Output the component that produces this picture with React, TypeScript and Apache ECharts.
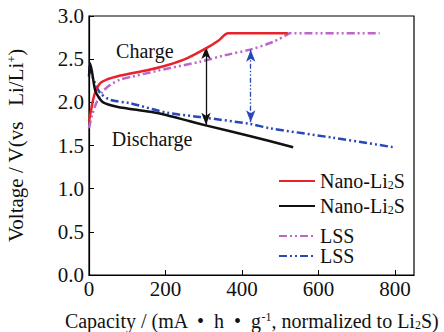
import React, { useEffect, useRef } from "react";
import * as echarts from "echarts";

const nanoChargeCap = [0, 5, 15, 29, 50, 73, 115, 160, 204, 256, 308, 340, 364, 520];
const nanoChargeV = [1.78, 1.9, 2.1, 2.22, 2.27, 2.3, 2.34, 2.38, 2.43, 2.51, 2.63, 2.72, 2.8, 2.8];

const nanoDisCap = [0, 3, 8, 16, 25, 37, 73, 160, 204, 264, 308, 420, 534];
const nanoDisV = [2.3, 2.45, 2.35, 2.14, 2.06, 2.0, 1.95, 1.89, 1.85, 1.78, 1.73, 1.61, 1.48];

const lssChargeCap = [0, 8, 20, 35, 55, 80, 115, 204, 290, 360, 421, 481, 517, 525, 760];
const lssChargeV = [1.7, 1.85, 2.0, 2.12, 2.2, 2.26, 2.3, 2.39, 2.47, 2.55, 2.61, 2.7, 2.78, 2.8, 2.8];

const lssDisCap = [0, 5, 16, 29, 55, 107, 204, 290, 421, 473, 638, 796];
const lssDisV = [2.42, 2.35, 2.22, 2.11, 2.03, 1.99, 1.88, 1.83, 1.75, 1.7, 1.59, 1.48];

const nanoArrow = { cap: 306, top: 2.64, bottom: 1.74 };
const lssArrow = { cap: 423, top: 2.61, bottom: 1.77 };

const chargeLabel = { cap: 146, v: 2.6, text: "Charge" };
const dischargeLabel = { cap: 165, v: 1.58, text: "Discharge" };

const FONT = "Liberation Serif";
const RED = "#e8222b";
const BLACK = "#111111";
const MAGENTA = "#c065c8";
const BLUE = "#2848b8";
const DASH_DOT_DOT = [8, 3, 2, 3, 2, 3];

const zip = (a: number[], b: number[]) => a.map((x, i) => [x, b[i]]);

const subRich = {
  s: { fontSize: 12, fontFamily: FONT, color: "#111", padding: [8, 0, 0, 0] },
  p: { fontSize: 12, fontFamily: FONT, color: "#111", padding: [0, 0, 8, 0] },
};
const tickText = { fontSize: 21, fontFamily: FONT, color: "#111", fontWeight: "normal" };

export default function App() {
  const ref = useRef<HTMLDivElement>(null);
  useEffect(() => {
    if (!ref.current) return;
    const chart = echarts.init(ref.current, undefined, { renderer: "svg" });
    const legendNames: Record<string, string> = {
      nc: "Nano-Li{s|2}S",
      nd: "Nano-Li{s|2}S",
      lc: "LSS",
      ld: "LSS",
    };
    const legendBase = {
      orient: "vertical",
      left: 278,
      padding: 0,
      itemWidth: 36,
      itemHeight: 14,
      formatter: (n: string) => legendNames[n],
      textStyle: { fontFamily: FONT, fontSize: 20, color: "#111", rich: subRich },
      itemStyle: { opacity: 0 },
      selectedMode: false,
    };
    const labelStyle = {
      show: true,
      fontFamily: FONT,
      fontSize: 20,
      color: "#111",
      position: "inside",
    };
    chart.setOption({
      animation: false,
      backgroundColor: "#ffffff",
      textStyle: { fontFamily: FONT, fontSize: 21 },
      grid: {
        left: 89,
        right: 30,
        top: 16,
        bottom: 57,
        outerBoundsMode: "none",
        containLabel: false,
        show: true,
        borderColor: "#000",
        borderWidth: 1.2,
        backgroundColor: "transparent",
      },
      legend: [
        { ...legendBase, data: ["nc", "nd"], top: 171, itemGap: 5 },
        { ...legendBase, data: ["lc", "ld"], top: 226, itemGap: 0 },
      ],
      xAxis: {
        type: "value",
        min: 0,
        max: 850,
        interval: 200,
        name: "Capacity / (mA  •  h  •  g{p|-1}, normalized to Li{s|2}S)",
        nameLocation: "middle",
        nameGap: 36,
        nameTextStyle: { fontFamily: FONT, fontSize: 20, color: "#111", rich: subRich },
        axisLine: { show: true, lineStyle: { color: "#000", width: 1.2 } },
        axisTick: { show: true, inside: true, length: 5, lineStyle: { color: "#000" } },
        axisLabel: {
          ...tickText,
          textStyle: tickText,
          margin: 3,
          showMaxLabel: false,
        },
        splitLine: { show: false },
      },
      yAxis: {
        type: "value",
        min: 0,
        max: 3,
        interval: 0.5,
        name: "Voltage / V(vs   Li/Li{p|+})",
        nameLocation: "middle",
        nameGap: 63,
        nameTextStyle: { fontFamily: FONT, fontSize: 21, color: "#111", rich: subRich },
        axisLine: { show: true, lineStyle: { color: "#000", width: 1.2 } },
        axisTick: { show: true, inside: true, length: 5, lineStyle: { color: "#000" } },
        axisLabel: {
          ...tickText,
          textStyle: tickText,
          margin: 5,
          formatter: (v: number) => v.toFixed(1),
        },
        splitLine: { show: false },
      },
      series: [
        {
          name: "nc",
          type: "line",
          data: zip(nanoChargeCap, nanoChargeV),
          showSymbol: false,
          symbol: "none",
          smooth: 0.3,
          lineStyle: { color: RED, width: 2.5 },
          itemStyle: { color: RED },
          z: 5,
          markPoint: {
            symbol: "circle",
            symbolSize: 0,
            silent: true,
            data: [
              {
                coord: [chargeLabel.cap, chargeLabel.v],
                label: { ...labelStyle, formatter: chargeLabel.text },
              },
              {
                coord: [dischargeLabel.cap, dischargeLabel.v],
                label: { ...labelStyle, formatter: dischargeLabel.text },
              },
            ],
          },
        },
        {
          name: "nd",
          type: "line",
          data: zip(nanoDisCap, nanoDisV),
          showSymbol: false,
          symbol: "none",
          smooth: 0.3,
          lineStyle: { color: BLACK, width: 2.5 },
          itemStyle: { color: BLACK },
          z: 5,
          markLine: {
            silent: true,
            symbol: ["arrow", "arrow"],
            symbolSize: [7, 12],
            label: { show: false },
            lineStyle: { color: BLACK, width: 1.3, type: "solid" },
            data: [
              [
                { coord: [nanoArrow.cap, nanoArrow.top] },
                { coord: [nanoArrow.cap, nanoArrow.bottom] },
              ],
            ],
          },
        },
        {
          name: "lc",
          type: "line",
          data: zip(lssChargeCap, lssChargeV),
          showSymbol: false,
          symbol: "none",
          smooth: 0.3,
          lineStyle: { color: MAGENTA, width: 2.5, type: DASH_DOT_DOT },
          itemStyle: { color: MAGENTA },
          z: 4,
        },
        {
          name: "ld",
          type: "line",
          data: zip(lssDisCap, lssDisV),
          showSymbol: false,
          symbol: "none",
          smooth: 0.3,
          lineStyle: { color: BLUE, width: 2.5, type: DASH_DOT_DOT },
          itemStyle: { color: BLUE },
          z: 4,
          markLine: {
            silent: true,
            symbol: ["arrow", "arrow"],
            symbolSize: [7, 12],
            label: { show: false },
            lineStyle: { color: BLUE, width: 1.3, type: [5, 2, 1.5, 2, 1.5, 2] },
            data: [
              [
                { coord: [lssArrow.cap, lssArrow.top] },
                { coord: [lssArrow.cap, lssArrow.bottom] },
              ],
            ],
          },
        },
      ],
    });
    return () => chart.dispose();
  }, []);
  return (
    <div
      ref={ref}
      style={{ position: "absolute", left: 0, top: 0, width: 444, height: 332 }}
    />
  );
}
